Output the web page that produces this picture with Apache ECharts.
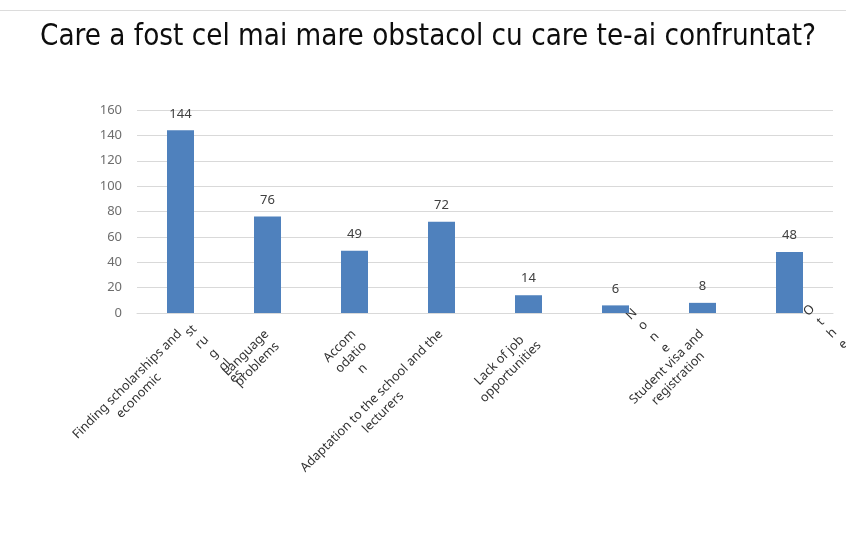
<!DOCTYPE html>
<html>
<head>
<meta charset="utf-8">
<title>Care a fost cel mai mare obstacol</title>
<script src="https://cdn.jsdelivr.net/npm/echarts@6/dist/echarts.min.js"></script>
<style>
html,body{margin:0;padding:0;background:#fff;}
#main{width:846px;height:535px;}
</style>
</head>
<body>
<div id="main"></div>
<script>
var categories = ['Finding scholarships and economic struggles', 'Language problems', 'Accommodation',
    'Adaptation to the school and the lecturers', 'Lack of job opportunities', 'None',
    'Student visa and registration', 'Other'];
var values = [144, 76, 49, 72, 14, 6, 8, 48];

// labels as they were wrapped on the slide
var tickLabels = [['Finding scholarships and', 'economic'], ['Language', 'problems'], ['Accom', 'odatio', 'n'],
    ['Adaptation to the school and the', 'lecturers'], ['Lack of job', 'opportunities'], [],
    ['Student visa and', 'registration'], []];
var tickLabelsTail = [['st', 'ru', 'g', 'gl', 'es'], [], [], [], [], [], [], []];
var tickLabelsLetters = [[], [], [], [], [], ['N', 'o', 'n', 'e'], [], ['O', 't', 'h', 'e']];

var FONT = 'Noto Sans';

var makeLabel = function(lines, style){
    if(!lines || lines.length == 0){
        return '';
    }
    return lines.map(function(l){ return '{' + style + '|' + l + '}'; }).join('\n');
};

var token = function(pad){
    return {align: 'center', fontFamily: FONT, fontSize: 12.7, lineHeight: 16, color: '#333333', padding: pad};
};

var labelAxis = function(lines, margin, align, rich, pickStyle){
    return {
        type: 'category',
        position: 'bottom',
        data: categories,
        axisLine: {show: false},
        axisTick: {show: false},
        splitLine: {show: false},
        axisLabel: {
            interval: 0,
            rotate: 45,
            margin: margin,
            align: align,
            verticalAlign: 'top',
            rich: rich,
            formatter: function(value, idx){
                return makeLabel(lines[idx], pickStyle(idx));
            }
        }
    };
};

var mainAxis = labelAxis(tickLabels, 7, 'right', {a: token([0, 9, 0, 0])}, function(){ return 'a'; });
mainAxis.axisLine = {show: true, lineStyle: {color: '#d9d9d9', width: 1}};

var chart = echarts.init(document.getElementById('main'), null, {renderer: 'canvas'});

chart.setOption({
    animation: false,
    backgroundColor: '#fff',
    title: {
        text: 'Care a fost cel mai mare obstacol cu care te-ai confruntat?',
        left: 35,
        top: 18,
        textStyle: {fontFamily: 'DejaVu Sans Condensed', fontSize: 29.3, fontWeight: 'normal', color: '#0d0d0d'}
    },
    graphic: [{
        type: 'line',
        shape: {x1: 0, y1: 10.5, x2: 846, y2: 10.5},
        style: {stroke: '#dcdcdc', lineWidth: 1}
    }],
    grid: {left: 137, right: 13, top: 110, bottom: 222, outerBoundsMode: 'none'},
    xAxis: [
        mainAxis,
        labelAxis(tickLabelsTail, 17, 'left', {t: token(0)}, function(){ return 't'; }),
        labelAxis(tickLabelsLetters, 6, 'left', {n: token([0, 0, 0, 10]), o: token([0, 0, 0, 15])},
            function(idx){ return idx == 5 ? 'n' : 'o'; })
    ],
    yAxis: {
        type: 'value',
        min: 0,
        max: 160,
        interval: 20,
        axisLine: {show: false},
        axisTick: {show: false},
        splitLine: {lineStyle: {color: '#d9d9d9', width: 1}},
        axisLabel: {margin: 15, fontFamily: FONT, fontSize: 13, color: '#6e6e6e'}
    },
    series: [{
        type: 'bar',
        xAxisIndex: 0,
        data: values,
        barWidth: 27,
        itemStyle: {color: '#4f81bd'},
        label: {
            show: true,
            position: 'top',
            distance: 10,
            fontFamily: FONT,
            fontSize: 13,
            color: '#404040'
        }
    }]
});
</script>
</body>
</html>
